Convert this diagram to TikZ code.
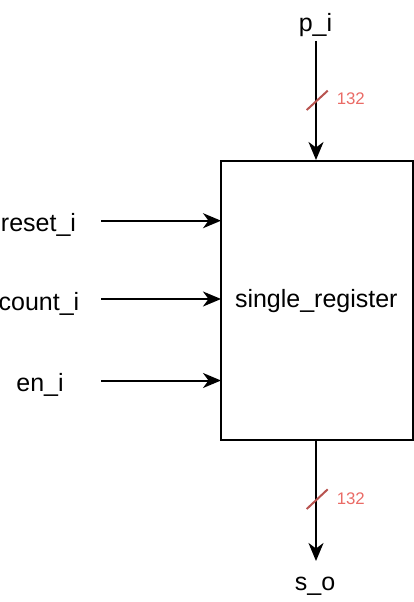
\documentclass[tikz,border=0pt]{standalone}
\usepackage{fontspec}
\setmainfont{Liberation Sans}
\usetikzlibrary{arrows.meta}
\definecolor{slashred}{HTML}{B85450}
\definecolor{labred}{HTML}{EA6B66}
\begin{document}
\begin{tikzpicture}[x=1pt,y=-1pt,
  sig/.style={line width=2pt,-{Stealth[length=18pt,width=15pt,inset=5.5pt]}},
  lbl/.style={inner sep=0pt,anchor=base,font=\fontsize{25}{30}\selectfont},
  buslbl/.style={inner sep=0pt,anchor=base,text=labred,font=\fontsize{16.8}{20}\selectfont},
  slashline/.style={draw=slashred,line width=2pt}]
\useasboundingbox (0,0) rectangle (414,602);
\node[draw,line width=2pt,minimum width=192pt,minimum height=279pt,inner sep=0pt] (reg) at (317,300.5) {};
\node[lbl] (name) at (316.3,307) {single\_register};
\node[lbl] (pi) at (315.5,31.5) {p\_i};
\node[lbl] (so) at (315,590) {s\_o};
\node[lbl] (reset) at (38.5,231) {reset\_i};
\node[lbl] (count) at (39,310) {count\_i};
\node[lbl] (en) at (40,391) {en\_i};
\coordinate (pistart) at (316,41);
\coordinate (soend) at (316,561);
\coordinate (rs) at (101,220.7);
\coordinate (cs) at (101,299);
\coordinate (es) at (101,380.5);
\coordinate (re) at (221,220.7);
\coordinate (ce) at (221,299);
\coordinate (ee) at (221,380.5);
\draw[sig] (pistart) -- (pistart |- reg.north);
\draw[sig] (soend |- reg.south) -- (soend);
\draw[sig] (rs) -- (re);
\draw[sig] (cs) -- (ce);
\draw[sig] (es) -- (ee);
\draw[slashline] (306.7,110) -- (327.7,90.7);
\draw[slashline] (306.7,509) -- (327.7,489.3);
\node[buslbl] (b1) at (350.8,104.3) {132};
\node[buslbl] (b2) at (350.8,504.3) {132};
\end{tikzpicture}
\end{document}
